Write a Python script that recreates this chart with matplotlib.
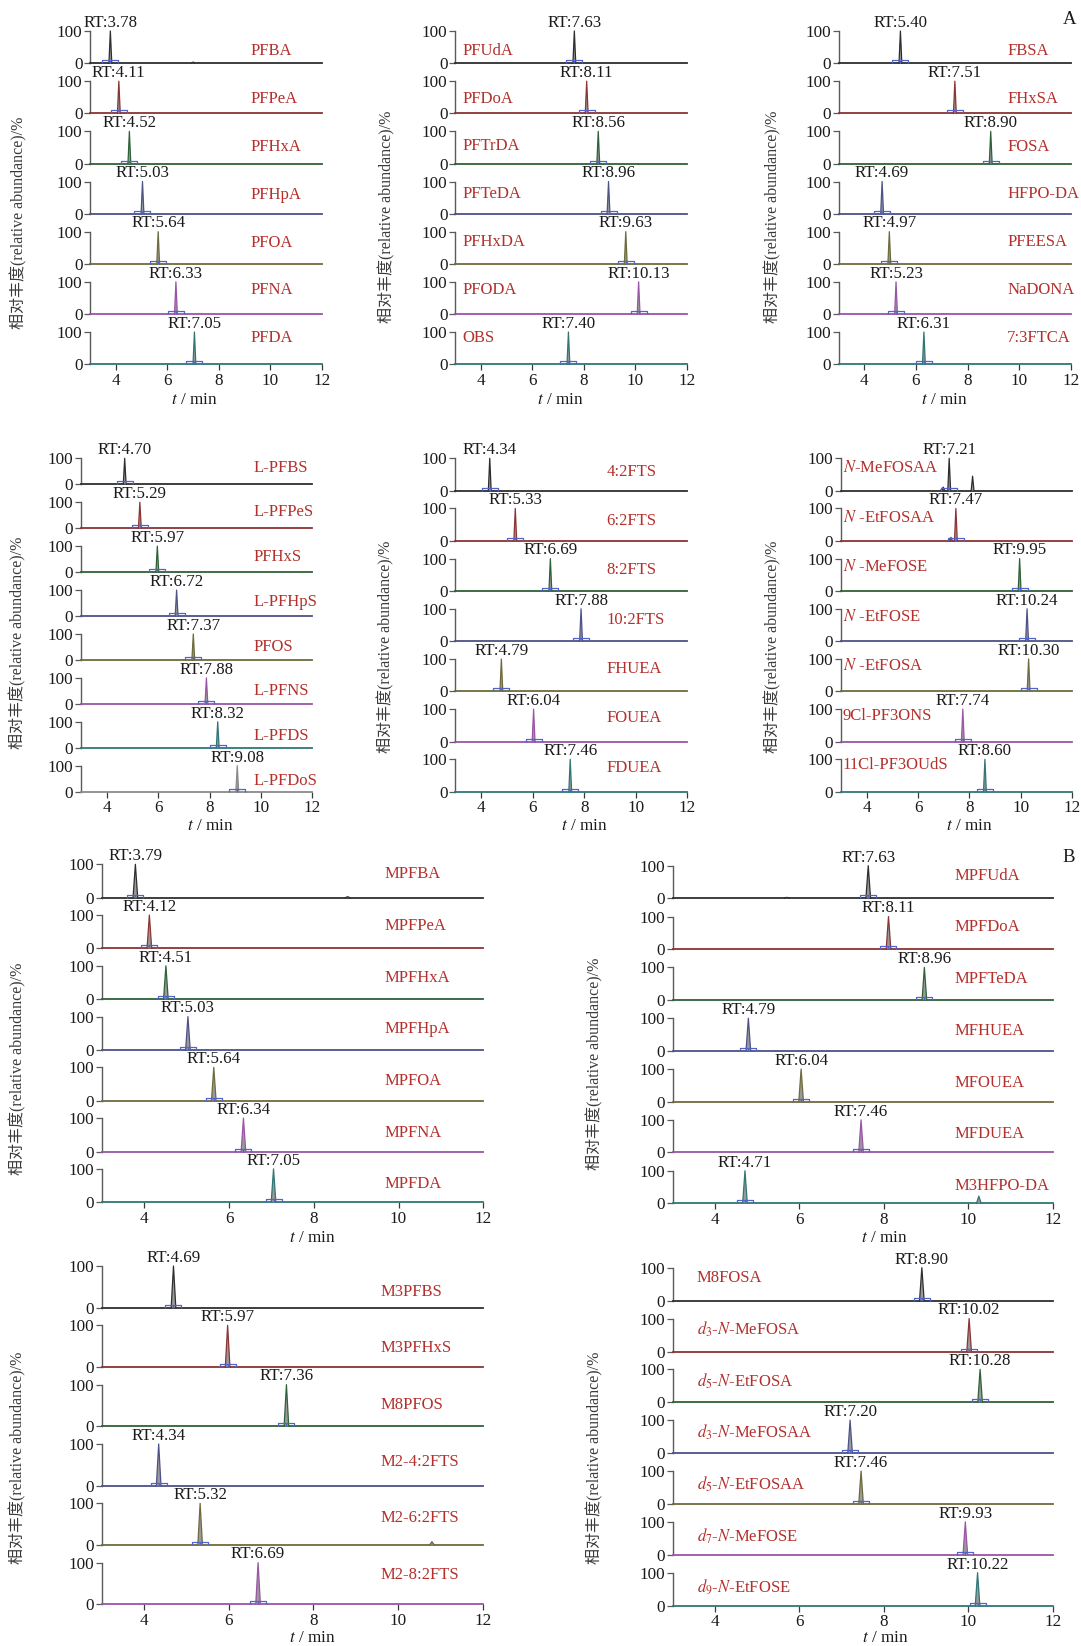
import matplotlib
matplotlib.use('Agg')
import matplotlib.pyplot as plt
from matplotlib.path import Path

plt.rcParams['font.family'] = ['Liberation Serif', 'Noto Sans CJK SC']
plt.rcParams['mathtext.fontset'] = 'stix'

# ---------------- data ----------------
names_a1 = ["PFBA", "PFPeA", "PFHxA", "PFHpA", "PFOA", "PFNA", "PFDA"]
rt_a1 = [3.78, 4.11, 4.52, 5.03, 5.64, 6.33, 7.05]

names_a2 = ["PFUdA", "PFDoA", "PFTrDA", "PFTeDA", "PFHxDA", "PFODA", "OBS"]
rt_a2 = [7.63, 8.11, 8.56, 8.96, 9.63, 10.13, 7.40]

names_a3 = ["FBSA", "FHxSA", "FOSA", "HFPO-DA", "PFEESA", "NaDONA", "7:3FTCA"]
rt_a3 = [5.40, 7.51, 8.90, 4.69, 4.97, 5.23, 6.31]

names_a4 = ["L-PFBS", "L-PFPeS", "PFHxS", "L-PFHpS", "PFOS", "L-PFNS", "L-PFDS", "L-PFDoS"]
rt_a4 = [4.70, 5.29, 5.97, 6.72, 7.37, 7.88, 8.32, 9.08]

names_a5 = ["4:2FTS", "6:2FTS", "8:2FTS", "10:2FTS", "FHUEA", "FOUEA", "FDUEA"]
rt_a5 = [4.34, 5.33, 6.69, 7.88, 4.79, 6.04, 7.46]

names_a6 = ["$N$-MeFOSAA", "$N$ -EtFOSAA", "$N$ -MeFOSE", "$N$ -EtFOSE", "$N$ -EtFOSA",
            "9Cl-PF3ONS", "11Cl-PF3OUdS"]
rt_a6 = [7.21, 7.47, 9.95, 10.24, 10.30, 7.74, 8.60]

names_b1 = ["MPFBA", "MPFPeA", "MPFHxA", "MPFHpA", "MPFOA", "MPFNA", "MPFDA"]
rt_b1 = [3.79, 4.12, 4.51, 5.03, 5.64, 6.34, 7.05]

names_b2 = ["MPFUdA", "MPFDoA", "MPFTeDA", "MFHUEA", "MFOUEA", "MFDUEA", "M3HFPO-DA"]
rt_b2 = [7.63, 8.11, 8.96, 4.79, 6.04, 7.46, 4.71]

names_b3 = ["M3PFBS", "M3PFHxS", "M8PFOS", "M2-4:2FTS", "M2-6:2FTS", "M2-8:2FTS"]
rt_b3 = [4.69, 5.97, 7.36, 4.34, 5.32, 6.69]

names_b4 = ["M8FOSA", "$d_3$-$N$-MeFOSA", "$d_5$-$N$-EtFOSA", "$d_3$-$N$-MeFOSAA",
            "$d_5$-$N$-EtFOSAA", "$d_7$-$N$-MeFOSE", "$d_9$-$N$-EtFOSE"]
rt_b4 = [8.90, 10.02, 10.28, 7.20, 7.46, 9.93, 10.22]

# minor extra peaks (retention time, relative abundance)
extra_peaks = {
    "PFBA": [(7.00, 4)],
    "$N$-MeFOSAA": [(8.12, 45), (6.93, 8), (6.98, 11)],
    "$N$ -EtFOSAA": [(7.22, 8), (7.28, 11)],
    "M3HFPO-DA": [(10.25, 22)],
    "M2-6:2FTS": [(10.80, 8)],
    "MPFUdA": [(5.70, 3)],
    "MPFBA": [(8.80, 3)],
}

xticks = [4, 6, 8, 10, 12]
yticks = [0, 100]
ylabel = "相对丰度(relative abundance)/%"
xlabel = "$t$ / min"

series_colors = ['#2e2e2e', '#8a3434', '#2f6138', '#4d5288', '#6e6b3c',
                 '#9a55a6', '#2f7674', '#8a8a8a']
name_color = '#b3302c'
rect_color = '#5064cc'

# ---------------- layout (pixels) ----------------
W, H = 1081, 1646
fig = plt.figure(figsize=(W / 100, H / 100), dpi=100)


def fx(px):
    return px / W


def fy(py):
    return 1 - py / H


rect_path = Path([(-1, 0), (-1, 0.45), (1, 0.45), (1, 0), (0, 0), (0, 0.45)],
                 [Path.MOVETO, Path.LINETO, Path.LINETO, Path.LINETO,
                  Path.MOVETO, Path.LINETO])


def group(names, rts, x3, x12, top, bottom, h, nx, ny0, ny1,
          ylx, yly, xlx, xly):
    n = len(names)
    spacing = (bottom - h - top) / (n - 1)
    nsp = (ny1 - ny0) / (n - 1)
    for i, (nm, rt) in enumerate(zip(names, rts)):
        t = top + i * spacing
        ax = fig.add_axes([fx(x3), fy(t + h), (x12 - x3) / W, h / H])
        c = series_colors[i % len(series_colors)]
        ax.set_xlim(3, 12)
        ax.set_ylim(0, 100)
        for s in ('top', 'right'):
            ax.spines[s].set_visible(False)
        ax.spines['left'].set_color('#5a5a5a')
        ax.spines['left'].set_linewidth(1.0)
        ax.spines['bottom'].set_color(c)
        ax.spines['bottom'].set_linewidth(1.3)
        ax.set_yticks(yticks)
        ax.set_yticklabels([str(v) for v in yticks])
        ax.tick_params(axis='y', direction='out', length=4, width=0.9,
                       color='#5a5a5a', labelsize=12.3, pad=1.5, labelcolor='#1a1a1a')
        if i == n - 1:
            ax.set_xticks(xticks)
            ax.set_xticklabels([str(v) for v in xticks])
            ax.tick_params(axis='x', direction='out', length=4, width=0.9,
                           color='#3a3a3a', labelsize=12.3, pad=2, labelcolor='#1a1a1a')
        else:
            ax.set_xticks([])
        peaks = [(rt, 100)] + extra_peaks.get(nm, [])
        for (pr, ph) in peaks:
            w = 0.055
            ax.fill([pr - w, pr, pr + w], [0, ph, 0], color='#888888', alpha=0.85,
                    lw=0, zorder=3, clip_on=False)
            ax.plot([pr - w, pr, pr + w], [0, ph, 0], color=c, lw=0.9,
                    zorder=4, clip_on=False)
        ax.plot([rt], [0], marker=rect_path, ms=11, mfc='none', mec=rect_color,
                mew=0.9, ls='none', zorder=5, clip_on=False)
        ax.annotate(f"RT:{rt:.2f}", xy=(rt, 100), xytext=(0, 3),
                    textcoords='offset points', ha='center', va='baseline',
                    fontsize=12.2, color='#1a1a1a', annotation_clip=False)
        fig.text(fx(nx), fy(ny0 + i * nsp), nm, ha='left', va='center',
                 fontsize=12, color=name_color)
    fig.text(fx(ylx), fy(yly), ylabel, rotation=90, ha='center', va='center',
             fontsize=11.5, color='#3a3a3a',
             family=['Liberation Serif', 'Noto Sans CJK SC'])
    fig.text(fx(xlx), fy(xly), xlabel, ha='center', va='center',
             fontsize=12.3, color='#1a1a1a')


# panel A, row 1
group(names_a1, rt_a1, 90.3, 321.7, 31, 364.3, 32.3, 250.7, 51.2, 338.3, 19, 223, 194, 400)
group(names_a2, rt_a2, 455.3, 686.7, 31, 364.3, 32.3, 462.3, 50.7, 337.7, 387, 217, 560, 400)
group(names_a3, rt_a3, 838.5, 1070.7, 31, 364.3, 32.3, 1007.3, 51, 337.7, 773, 217, 944, 400)
# panel A, row 2
group(names_a4, rt_a4, 81, 312.3, 458.3, 791.7, 26, 254, 467.7, 780.7, 18, 643, 210, 826)
group(names_a5, rt_a5, 455.2, 687.3, 458.3, 791.7, 32.4, 606.7, 471.7, 767.7, 386, 647, 584, 826)
group(names_a6, rt_a6, 841, 1072.3, 458.3, 791.7, 32.4, 842.7, 468.3, 765, 773, 647, 969, 826)
# panel B, row 1
group(names_b1, rt_b1, 101.9, 483.3, 864.3, 1202.3, 33.4, 385, 874.3, 1184.3, 18, 1069, 312, 1238)
group(names_b2, rt_b2, 672.8, 1052.7, 865.7, 1203.3, 32.6, 955, 875.7, 1186, 595, 1064, 884, 1238)
# panel B, row 2
group(names_b3, rt_b3, 102, 482.7, 1266, 1604.3, 41.7, 380.7, 1291.5, 1575, 18, 1458, 312, 1638)
group(names_b4, rt_b4, 672.8, 1052.7, 1267.7, 1605.7, 33, 696.7, 1277.7, 1587.7, 595, 1458, 885, 1638)

fig.text(fx(1070), fy(20), "A", ha='center', va='center', fontsize=13.5, color='#1a1a1a')
fig.text(fx(1069), fy(858), "B", ha='center', va='center', fontsize=13.5, color='#1a1a1a')

fig.savefig("out.png", dpi=100)
